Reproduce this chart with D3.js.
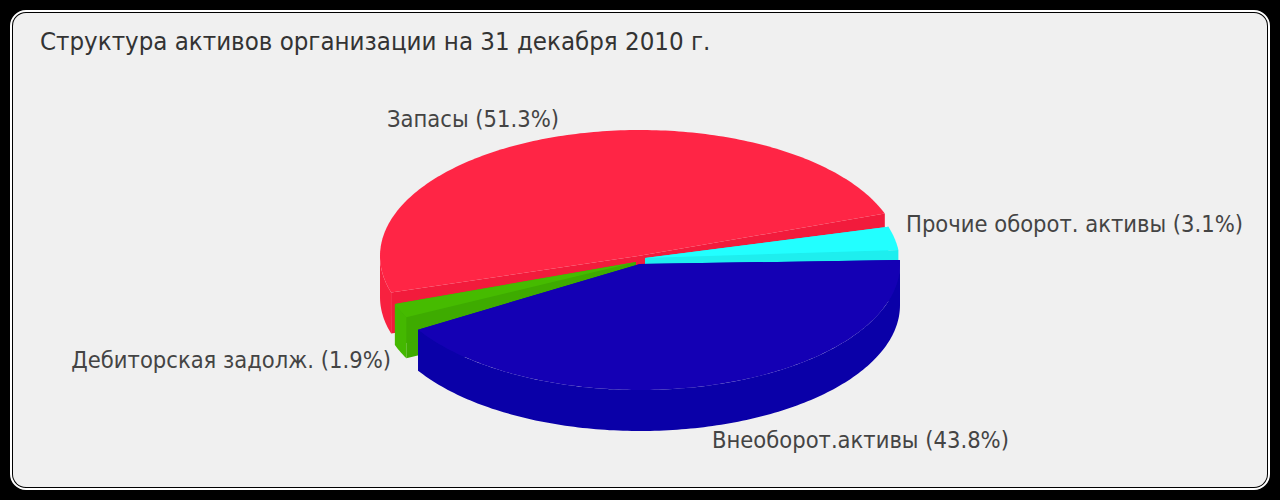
<!DOCTYPE html>
<html><head><meta charset="utf-8">
<style>html,body{margin:0;padding:0;background:#000}svg{display:block}</style>
<script src="https://d3js.org/d3.v7.min.js"></script>
</head><body>
<svg id="c" width="1280" height="500"></svg>
<script>
const titleText = "Структура активов организации на 31 декабря 2010 г.";
// Drawing order clockwise from east, as the slices appear in the picture
const categories = ["Внеоборот.активы", "Дебиторская задолж.", "Запасы", "Прочие оборот. активы"];
const percentLabels = [43.8, 1.9, 51.3, 3.1];
// Sweep of each slice and the gap after it, as measured on the picture, in degrees
const drawnSweeps = [150.4, 6.5, 177.1, 10.8];
const gapsAfter = [5.4, 2.7, 2.5, 4.6];
const topColors = ["#1400B4", "#46BB00", "#FF2545", "#22FFFF"];
const innerColors = ["#1000AC", "#3EAB00", "#F21B3C", "#1EEEEE"];
const sideColors = ["#0A00A8", "#44B800", "#F8213F", "#22FFFF"];
const centerX = [640, 640, 640, 640];
const centerY = [264, 262, 256, 264];
const tipX = [640, 636, 638, 645];
const tipY = [264, 262, 256, 258];
const labelX = [712, 391, 387, 906];
const labelY = [440, 360, 119, 224];
const labelAnchor = ["start", "end", "start", "start"];

const svg = d3.select("#c");
svg.append("rect").attr("x",11).attr("y",11).attr("width",1258).attr("height",478).attr("rx",15)
  .attr("fill","#000").attr("stroke","#fff").attr("stroke-width",2);
svg.append("rect").attr("x",13).attr("y",13).attr("width",1254).attr("height",474).attr("rx",13)
  .attr("fill","#F0F0F0");

const depth = 41;
const ux = d3.scaleLinear().domain([-1,1]).range([-260,260]);
const uy = d3.scaleLinear().domain([-1,1]).range([-126,126]);
const deg = Math.PI/180, startAt = -1.8*deg;
const pie = d3.pie().value(d=>d).sort(null).startAngle(startAt).endAngle(2*Math.PI+startAt);
const arcs = pie(drawnSweeps.map((s,i)=>s+gapsAfter[i])).map((a,i)=>({i, a0:a.startAngle, a1:a.endAngle-gapsAfter[i]*deg}));

const line = d3.line();
function pt(i,t,dz=0){return [centerX[i]+ux(Math.cos(t)), centerY[i]+uy(Math.sin(t))+dz];}
function arcPts(i,a0,a1,dz=0){
  const n=Math.max(2,Math.ceil((a1-a0)/deg));
  return d3.range(n+1).map(k=>pt(i,a0+(a1-a0)*k/n,dz));
}
function walls(i,a0,a1){
  const c=[tipX[i],tipY[i]], cb=[c[0],c[1]+depth];
  [a0,a1].forEach(t=>{
    const p=pt(i,t), pb=pt(i,t,depth);
    svg.append("path").attr("d",line([c,p,pb,cb])+"Z").attr("fill",innerColors[i]);
  });
}
function side(i,a0,a1){
  // visible outer wall: only the front half of the rim
  [[0,Math.PI],[2*Math.PI,3*Math.PI]].forEach(([u,v])=>{
    const l=Math.max(a0,u),h=Math.min(a1,v);
    if(h<=l) return;
    const top=arcPts(i,l,h), bot=arcPts(i,l,h,depth).reverse();
    svg.append("path").attr("d",line(top.concat(bot))+"Z").attr("fill",sideColors[i]);
  });
}
function face(i,a0,a1){
  svg.append("path").attr("d",line([[tipX[i],tipY[i]]].concat(arcPts(i,a0,a1)))+"Z").attr("fill",topColors[i]);
}
[2,3,1,0].forEach(k=>{
  const {i,a0,a1}=arcs[k];
  walls(i,a0,a1); side(i,a0,a1); face(i,a0,a1);
});

const font='"DejaVu Sans Condensed","DejaVu Sans", sans-serif';
svg.append("text").attr("x",40).attr("y",50).attr("font-family",font).attr("font-stretch","condensed")
  .attr("font-size",25.6).attr("fill","#333").text(titleText);
categories.forEach((c,i)=>{
  svg.append("text").attr("x",labelX[i]).attr("y",labelY[i]+8).attr("text-anchor",labelAnchor[i])
    .attr("font-family",font).attr("font-stretch","condensed").attr("font-size",23.5).attr("fill","#444")
    .text(`${c} (${percentLabels[i].toFixed(1)}%)`);
});
</script>
</body></html>
